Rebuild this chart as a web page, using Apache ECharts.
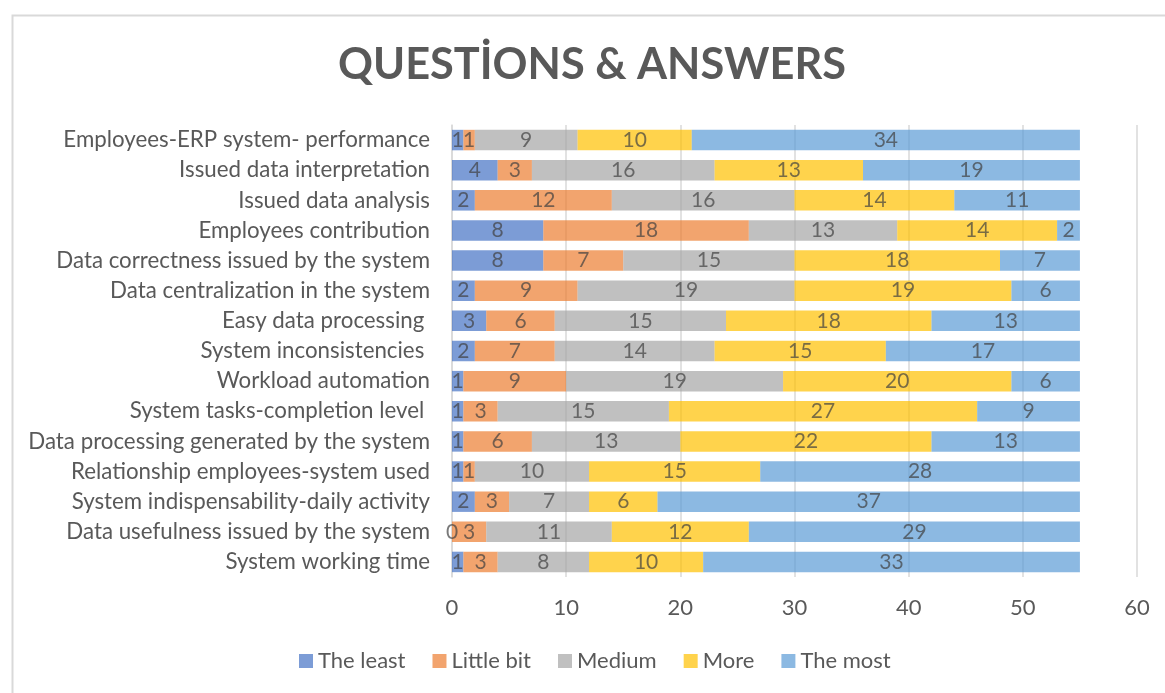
<!DOCTYPE html>
<html>
<head>
<meta charset="utf-8">
<script src="https://cdn.jsdelivr.net/npm/echarts@6/dist/echarts.min.js"></script>
<style>html,body{margin:0;padding:0;background:#fff;}#c{width:1165px;height:693px;}</style>
</head>
<body>
<div id="c"></div>
<script>
// Categories listed bottom to top (ECharts category axis order)
const categories = [
  'System working time',
  'Data usefulness issued by the system',
  'System indispensability-daily activity',
  'Relationship employees-system used',
  'Data processing generated by the system',
  'System tasks-completion level ',
  'Workload automation',
  'System inconsistencies ',
  'Easy data processing ',
  'Data centralization in the system',
  'Data correctness issued by the system',
  'Employees contribution',
  'Issued data analysis',
  'Issued data interpretation',
  'Employees-ERP system- performance'
];
const theLeast  = [1, 0, 2, 1, 1, 1, 1, 2, 3, 2, 8, 8, 2, 4, 1];
const littleBit = [3, 3, 3, 1, 6, 3, 9, 7, 6, 9, 7, 18, 12, 3, 1];
const medium    = [8, 11, 7, 10, 13, 15, 19, 14, 15, 19, 15, 13, 16, 16, 9];
const more      = [10, 12, 6, 15, 22, 27, 20, 15, 18, 19, 18, 14, 14, 13, 10];
const theMost   = [33, 29, 37, 28, 13, 9, 6, 17, 13, 6, 7, 2, 11, 19, 34];
const seriesNames = ['The least', 'Little bit', 'Medium', 'More', 'The most'];
const seriesData = [theLeast, littleBit, medium, more, theMost];
const colors = ['#4472C4', '#ED7D31', '#A5A5A5', '#FFC000', '#5B9BD5'];

const font = 'Lato, Carlito, Calibri, "Open Sans", sans-serif';
const chart = echarts.init(document.getElementById('c'));
chart.setOption({
  animation: false,
  backgroundColor: '#fff',
  graphic: [{
    type: 'rect', left: 10, top: 13, silent: true, z: -10,
    shape: { width: 1200, height: 720 },
    style: { fill: 'none', stroke: '#D9D9D9', lineWidth: 2 }
  }],
  title: {
    text: 'QUESTİONS & ANSWERS',
    left: 333, top: 39,
    textStyle: { fontFamily: font, fontSize: 43.3, fontWeight: 'bold', color: '#595959' }
  },
  legend: {
    bottom: 16, left: 294,
    itemWidth: 14, itemHeight: 14, itemGap: 27,
    icon: 'rect',
    textStyle: { fontFamily: font, fontSize: 22, color: '#595959' }
  },
  grid: { left: 452, right: 28, top: 125, bottom: 116, containLabel: false },
  xAxis: {
    type: 'value', min: 0, max: 60, interval: 10,
    axisLine: { show: false }, axisTick: { show: false },
    splitLine: { lineStyle: { color: '#D9D9D9', width: 1.5 } },
    axisLabel: { fontFamily: font, fontSize: 22, color: '#595959', margin: 20 }
  },
  yAxis: {
    type: 'category', data: categories,
    axisLine: { show: true, lineStyle: { color: '#D9D9D9', width: 1.5 } },
    axisTick: { show: false },
    axisLabel: { fontFamily: font, fontSize: 22.3, color: '#595959', margin: 22 }
  },
  series: seriesNames.map((n, i) => ({
    name: n, type: 'bar', stack: 'total', data: seriesData[i],
    barWidth: '68%',
    itemStyle: { color: colors[i], opacity: 0.7 },
    label: { show: true, position: 'inside', fontFamily: font, fontSize: 21, color: '#404040' }
  }))
});
</script>
</body>
</html>
